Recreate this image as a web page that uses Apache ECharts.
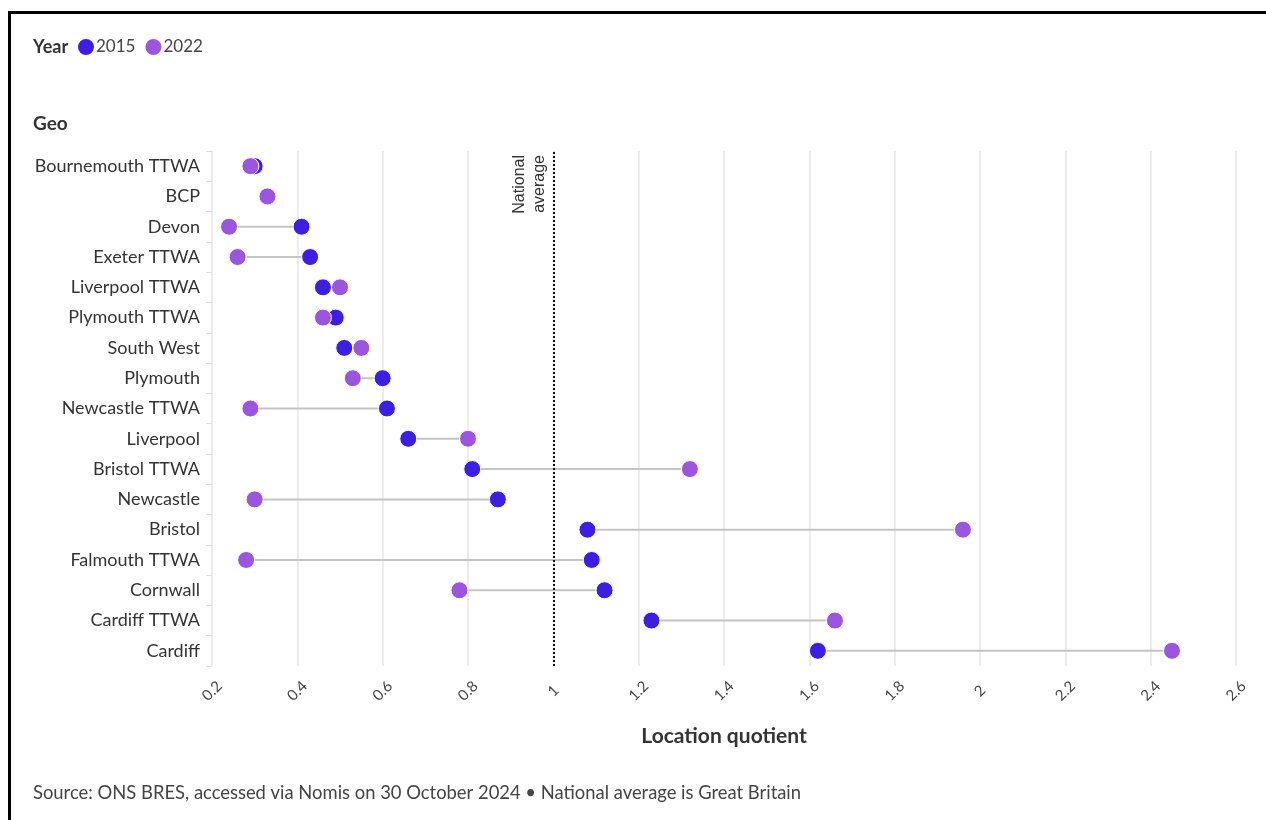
<!DOCTYPE html>
<html>
<head>
<meta charset="utf-8">
<script src="https://cdn.jsdelivr.net/npm/echarts@6/dist/echarts.min.js"></script>
<style>
html,body{margin:0;padding:0;background:#fff;}
#chart{position:absolute;left:0;top:0;width:1266px;height:820px;}
#frame{position:absolute;left:8px;top:11px;width:1258px;height:809px;border-left:3px solid #000;border-top:3px solid #000;box-sizing:border-box;pointer-events:none;}
</style>
</head>
<body>
<div id="chart"></div>
<div id="frame"></div>
<script>
const categories = ["Bournemouth TTWA","BCP","Devon","Exeter TTWA","Liverpool TTWA","Plymouth TTWA","South West","Plymouth","Newcastle TTWA","Liverpool","Bristol TTWA","Newcastle","Bristol","Falmouth TTWA","Cornwall","Cardiff TTWA","Cardiff"];
const values2015 = [0.30, null, 0.41, 0.43, 0.46, 0.49, 0.51, 0.60, 0.61, 0.66, 0.81, 0.87, 1.08, 1.09, 1.12, 1.23, 1.62];
const values2022 = [0.29, 0.33, 0.24, 0.26, 0.50, 0.46, 0.55, 0.53, 0.29, 0.80, 1.32, 0.30, 1.96, 0.28, 0.78, 1.66, 2.45];
const seriesNames = ["2015","2022"];
const xTicks = {min:0.2, max:2.6, interval:0.2};
const nationalAverage = 1;

const FONT = 'Lato';
const C2015 = '#3c1fe3';
const C2022 = '#9b55df';

// bottom-to-top order for a non-inverted category axis (first category drawn at top)
const axisCategories = categories.slice().reverse();
const rangeData = categories.map((c,i)=>[c, values2015[i], values2022[i]]);

const chart = echarts.init(document.getElementById('chart'));
chart.setOption({
  backgroundColor:'#fff',
  textStyle:{fontFamily:FONT},
  animation:false,
  title:[
    {text:'Year', left:28, top:33, textStyle:{fontFamily:FONT,fontSize:18,fontWeight:'bold',color:'#333'}},
    {text:'Geo', left:28, top:109, textStyle:{fontFamily:FONT,fontSize:19,fontWeight:'bold',color:'#333'}},
    {text:'Source: ONS BRES, accessed via Nomis on 30 October 2024 \u2022 National average is Great Britain', left:28, top:779, textStyle:{fontFamily:FONT,fontSize:18.4,fontWeight:'normal',color:'#444'}}
  ],
  legend:{
    data:seriesNames, left:71, top:32, icon:'circle', itemWidth:18, itemHeight:18, itemGap:8,
    textStyle:{fontFamily:FONT,fontSize:17,color:'#444',padding:[0,0,0,-4]}
  },
  grid:{left:212, right:30, top:151, bottom:154, containLabel:false},
  xAxis:{
    type:'value', min:xTicks.min, max:xTicks.max, interval:xTicks.interval,
    name:'Location quotient', nameLocation:'middle', nameGap:60,
    nameTextStyle:{fontFamily:FONT,fontSize:21,fontWeight:'bold',color:'#333'},
    axisLine:{show:false}, axisTick:{show:false},
    axisLabel:{rotate:45, align:'center', verticalAlign:'middle', margin:25, fontSize:15, color:'#444', fontFamily:FONT,
      formatter:v=>String(Math.round(v*10)/10)},
    splitLine:{show:true, lineStyle:{color:'#e6e6e6', width:1.5}}
  },
  yAxis:{
    type:'category', data:axisCategories,
    axisLine:{show:false},
    axisTick:{show:true, length:6, lineStyle:{color:'#dddddd'}},
    axisLabel:{fontSize:18, color:'#333', margin:12, fontFamily:FONT},
    splitLine:{show:false}
  },
  series:[
    {
      type:'custom', name:'range', silent:true, z:1,
      renderItem:function(params, api){
        const a = api.value(1), b = api.value(2);
        if (a == null || b == null || isNaN(a) || isNaN(b)) return null;
        const p1 = api.coord([a, api.value(0)]);
        const p2 = api.coord([b, api.value(0)]);
        return {type:'line', shape:{x1:p1[0],y1:p1[1],x2:p2[0],y2:p2[1]}, style:{stroke:'#c4c4c4', lineWidth:2}};
      },
      encode:{x:[1,2], y:0},
      data:rangeData
    },
    {
      type:'scatter', name:'2015', z:3, symbolSize:17,
      itemStyle:{color:C2015, borderColor:'#fff', borderWidth:1, opacity:1},
      data:categories.map((c,i)=>[values2015[i], c]).filter(d=>d[0]!=null),
      markLine:{
        silent:true, symbol:'none',
        lineStyle:{color:'#111', type:'dotted', width:2},
        label:{show:true, position:'insideEndTop', formatter:'National\naverage', fontFamily:'Liberation Sans', fontSize:16, color:'#333', lineHeight:20, distance:4},
        data:[{xAxis:nationalAverage}]
      }
    },
    {
      type:'scatter', name:'2022', z:4, symbolSize:17,
      itemStyle:{color:C2022, borderColor:'#fff', borderWidth:1, opacity:1},
      data:categories.map((c,i)=>[values2022[i], c]).filter(d=>d[0]!=null)
    }
  ]
});
</script>
</body>
</html>
